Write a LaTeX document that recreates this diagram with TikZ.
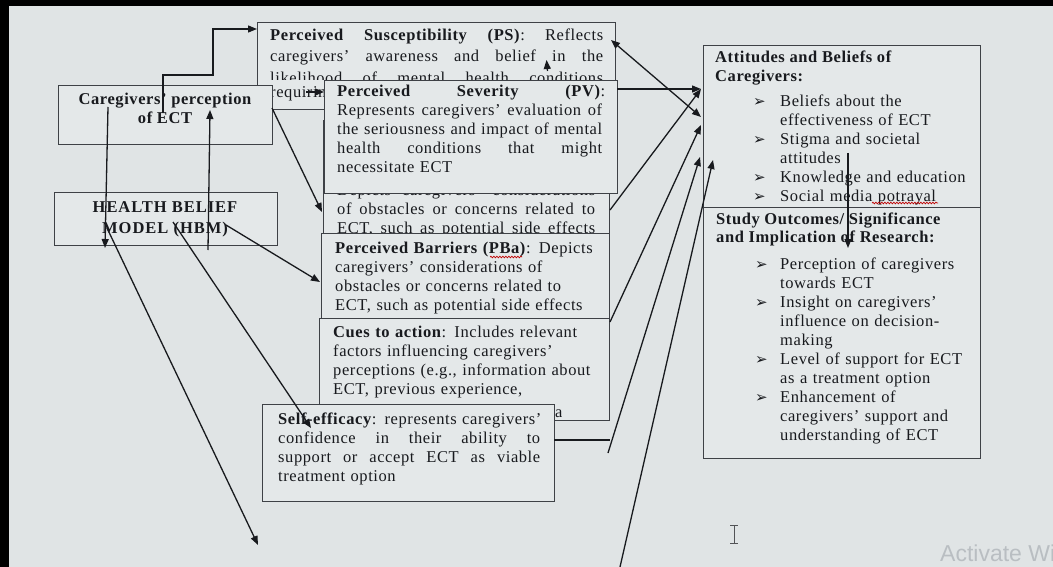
\documentclass[tikz,border=0pt]{standalone}
\usepackage{fontspec}
\setmainfont{Liberation Serif}[LetterSpace=3.5]
\newfontfamily\hbmfont{Liberation Serif}[LetterSpace=6]
\newfontfamily\dingfont{DejaVu Sans}
\newfontfamily\winfont{Liberation Sans}
\usetikzlibrary{arrows.meta,decorations.pathmorphing}
\definecolor{screenbg}{HTML}{E0E4E5}
\definecolor{boxfill}{HTML}{E4E8E9}
\definecolor{boxline}{HTML}{3E4146}
\definecolor{inkc}{HTML}{181A1E}
\definecolor{wmark}{HTML}{B9BEC2}
\newcommand{\jw}[2]{\makebox[#1][l]{#2}}
\newcommand{\bulA}{\makebox[27pt][l]{\dingfont\fontsize{15}{19}\selectfont ➢}}
\newcommand{\bulB}{\makebox[25pt][l]{\dingfont\fontsize{15}{19}\selectfont ➢}}
\newcommand{\hf}{\hfill}
\tikzset{
  boxnode/.style={draw=boxline, fill=boxfill, line width=1.1pt, inner sep=0pt, anchor=north west},
  txt/.style={anchor=north west, inner sep=0pt, align=left, text=inkc, font=\fontsize{16.5}{19}\selectfont},
  conn/.style={draw=inkc, line width=1.3pt, -{Triangle[length=9pt,width=7pt]}},
  dconn/.style={draw=inkc, line width=1.3pt, {Triangle[length=9pt,width=7pt]}-{Triangle[length=9pt,width=7pt]}},
  plainconn/.style={draw=inkc, line width=1.3pt},
  squig/.style={draw=red!75!black, line width=0.7pt, decorate, decoration={snake, amplitude=0.8pt, segment length=3pt}},
}
\begin{document}
\begin{tikzpicture}[x=1pt,y=-1pt]
\useasboundingbox (0,0) rectangle (1053,567);
\fill[black] (0,0) rectangle (1053,567);
\fill[screenbg] (9,6) rectangle (1053,567);

% Perceived Susceptibility
\node[boxnode, minimum width=358pt, minimum height=87pt] (ps) at (257,22) {};
\node[txt, text width=340pt, font=\fontsize{16.5}{21.5}\selectfont] (pstext) at (270,24.95)
  {\strut\jw{333pt}{\textbf{Perceived}\hf\textbf{Susceptibility}\hf\textbf{(PS)}:\hf Reflects}\\
   \jw{333pt}{caregivers'\hf awareness\hf and\hf belief\hf in\hf the}};
\begin{scope}
  \clip (257,62) rectangle (615,79.5);
  \node[txt, text width=340pt] (psline3) at (270,69.7) {\strut\jw{333pt}{likelihood\hf of\hf mental\hf health\hf conditions}};
\end{scope}
\begin{scope}
  \clip (257,86) rectangle (615,108);
  \node[txt, text width=340pt] (psline4) at (270,83.7) {\strut requiring ECT as a treatment option};
\end{scope}

% Caregivers' perception
\node[boxnode, minimum width=214pt, minimum height=59pt] (cg) at (58,85) {};
\node[txt, anchor=north, align=center, font=\bfseries\fontsize{16.5}{19}\selectfont] (cgtext) at (165,90.7)
  {\strut Caregivers' perception\\of ECT};

% hidden barriers box
\node[boxnode, minimum width=286pt, minimum height=113pt] (hid) at (323,120) {};
\node[txt, text width=270pt] (hidtext) at (337,181.7)
  {\strut\jw{258pt}{Depicts\hf caregivers'\hf considerations}\\
   \jw{258pt}{of\hf obstacles\hf or\hf concerns\hf related\hf to}\\
   \jw{258pt}{ECT,\hf such\hf as\hf potential\hf side\hf effects}};

% Perceived Severity
\node[boxnode, minimum width=293pt, minimum height=113pt] (pv) at (324,80) {};
\node[txt, text width=275pt] (pvtext) at (337,82.7)
  {\strut\jw{268pt}{\textbf{Perceived}\hf\textbf{Severity}\hf\textbf{(PV)}:}\\
   \jw{265pt}{Represents\hf caregivers'\hf evaluation\hf of}\\
   \jw{265pt}{the\hf seriousness\hf and\hf impact\hf of\hf mental}\\
   \jw{265pt}{health\hf conditions\hf that\hf might}\\
   necessitate ECT};

% Perceived Barriers
\node[boxnode, minimum width=288pt, minimum height=85pt] (pba) at (321,233) {};
\node[txt, text width=272pt] (pbatext) at (335,239.7)
  {\strut\textbf{Perceived Barriers (PBa)}: Depicts\\
   caregivers' considerations of\\
   obstacles or concerns related to\\
   ECT, such as potential side effects};
\draw[squig] (490,257) -- (522,257);

% Cues to action
\node[boxnode, minimum width=290pt, minimum height=102pt] (cue) at (319,318) {};
\node[txt, text width=275pt] (cuetext) at (333,323.7)
  {\strut\textbf{Cues to action}: Includes relevant\\
   factors influencing caregivers'\\
   perceptions (e.g., information about\\
   ECT, previous experience,};
\begin{scope}
  \clip (319,405) rectangle (561,420);
  \node[txt, text width=275pt] (cueline5) at (333,403.7) {\strut recommendations from healthcare};
\end{scope}

% Self-efficacy
\node[boxnode, minimum width=292pt, minimum height=97pt] (se) at (262,404) {};
\node[txt, text width=270pt] (setext) at (278,410.7)
  {\strut\textbf{Self-efficacy}: represents caregivers'\\
   \jw{262pt}{confidence\hf in\hf their\hf ability\hf to}\\
   \jw{262pt}{support\hf or\hf accept\hf ECT\hf as\hf viable}\\
   treatment option};

% HBM
\node[boxnode, minimum width=223pt, minimum height=53pt] (hbm) at (54,192) {};
\node[txt, anchor=north, align=center, font=\hbmfont\bfseries\fontsize{16.5}{21}\selectfont] (hbmtext) at (165,197.3)
  {\strut HEALTH BELIEF\\MODEL (HBM)};

% Attitudes
\node[boxnode, minimum width=277pt, minimum height=162pt] (att) at (703,45) {};
\node[txt, font=\bfseries\fontsize{16.5}{19}\selectfont] (atthead) at (715,48.7)
  {\strut Attitudes and Beliefs of\\Caregivers:};
\node[txt, text width=225pt] (attlist) at (753,92.7)
  {\strut\bulA Beliefs about the\\
   \hspace*{27pt}effectiveness of ECT\\
   \bulA Stigma and societal\\
   \hspace*{27pt}attitudes\\
   \bulA Knowledge and education\\
   \bulA Social media potrayal};
\draw[squig] (872,203) -- (938,203);

% Study outcomes
\node[boxnode, minimum width=277pt, minimum height=251pt] (study) at (703,207) {};
\node[txt, font=\bfseries\fontsize{16.5}{18}\selectfont] (studyhead) at (716,211.7)
  {\strut Study Outcomes/ Significance\\and Implication of Research:};
\node[txt, text width=222pt] (studylist) at (755,255.7)
  {\strut\bulB Perception of caregivers\\
   \hspace*{25pt}towards ECT\\
   \bulB Insight on caregivers'\\
   \hspace*{25pt}influence on decision-\\
   \hspace*{25pt}making\\
   \bulB Level of support for ECT\\
   \hspace*{25pt}as a treatment option\\
   \bulB Enhancement of\\
   \hspace*{25pt}caregivers' support and\\
   \hspace*{25pt}understanding of ECT};

% watermark and cursor
\begin{scope}
  \clip (0,0) rectangle (1053,567);
  \node[anchor=base west, inner sep=0pt, text=wmark, font=\winfont\fontsize{23}{23}\selectfont] (wm) at (940,561) {Activate Windows};
\end{scope}
\draw[inkc!75, line width=0.9pt] (734,525) -- (734,543) (730,525) -- (738,525) (730,543) -- (738,543);

% connector coordinates
\coordinate (c1s) at (163,113);
\coordinate (c1a) at (163,75);
\coordinate (c1b) at (213,75);
\coordinate (c1c) at (213,29);
\coordinate (c2s) at (108,107);
\coordinate (c2e) at (105,248);
\coordinate (c3s) at (208,250);
\coordinate (c3e) at (210,110);
\coordinate (c4s) at (272,108);
\coordinate (c4e) at (322,212);
\coordinate (c5s) at (306,92);
\coordinate (c6s) at (107,228);
\coordinate (c6e) at (258,545);
\coordinate (c7s) at (173,222);
\coordinate (c7e) at (311,428);
\coordinate (c8s) at (226,225);
\coordinate (c8e) at (320,282);
\coordinate (c9s) at (611,40);
\coordinate (c9e) at (701,117);
\coordinate (c10s) at (617,89);
\coordinate (c10e) at (701,89);
\coordinate (c11s) at (610,210);
\coordinate (c12s) at (610,322);
\coordinate (c12e) at (701,125);
\coordinate (c13s) at (554,440);
\coordinate (c13m) at (610,440);
\coordinate (c13a) at (608,453);
\coordinate (c13e) at (700,157);
\coordinate (c14s) at (620,567);
\coordinate (c14e) at (713,160);
\coordinate (c15s) at (848,153);
\coordinate (c15e) at (848,248);
\coordinate (c16s) at (547.5,71);
\coordinate (c16e) at (546.5,60);

\draw[conn] (c1s) -- (c1a) -- (c1b) -- (c1c) -- (c1c -| ps.west);
\draw[conn] (c2s) -- (c2e);
\draw[conn] (c3s) -- (c3e);
\draw[conn] (c4s) -- (c4e);
\draw[conn] (c5s) -- (c5s -| pv.west);
\draw[conn] (c6s) -- (c6e);
\draw[conn] (c7s) -- (c7e);
\draw[conn] (c8s) -- (c8e);
\draw[dconn] (c9s) -- (c9e);
\draw[conn] (c10s) -- (c10e);
\draw[conn] (c11s) -- (c10e);
\draw[conn] (c12s) -- (c12e);
\draw[plainconn] (c13s) -- (c13m);
\draw[conn] (c13a) -- (c13e);
\draw[conn] (c14s) -- (c14e);
\draw[conn] (c15s) -- (c15e);
\draw[conn] (c16s) -- (c16e);
\end{tikzpicture}
\end{document}
